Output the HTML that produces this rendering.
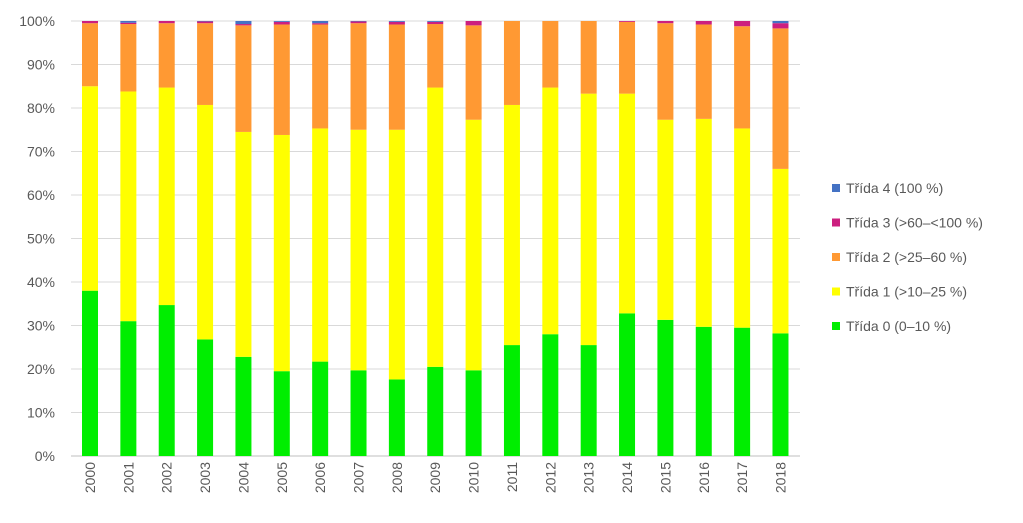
<!DOCTYPE html>
<html><head><meta charset="utf-8"><style>
body{margin:0;background:#fff;font-family:"Liberation Sans",sans-serif}
</style></head><body>
<svg id="chart" width="1023" height="518" xmlns="http://www.w3.org/2000/svg" style="font-family:'Liberation Sans',sans-serif"></svg>
<script>
const years=["2000","2001","2002","2003","2004","2005","2006","2007","2008","2009","2010","2011","2012","2013","2014","2015","2016","2017","2018"];
const class0=[38,31,34.7,26.8,22.8,19.5,21.7,19.7,17.6,20.5,19.7,25.5,28,25.5,32.8,31.3,29.7,29.5,28.2];
const class1=[47,52.8,50,53.9,51.7,54.3,53.6,55.3,57.4,64.2,57.6,55.2,56.7,57.8,50.5,46,47.8,45.8,37.8];
const class2=[14.5,15.5,14.8,18.8,24.5,25.4,23.9,24.5,24.2,14.6,21.7,19.3,15.3,16.7,16.5,22.2,21.7,23.5,32.3];
const class3=[0.5,0.3,0.5,0.4,0.3,0.6,0.3,0.4,0.6,0.5,1,0,0,0,0.2,0.5,0.8,1.2,1.2];
const class4=[0,0.4,0,0.1,0.7,0.2,0.5,0.1,0.2,0.2,0,0,0,0,0,0,0,0,0.5];
const yTicks=[0,10,20,30,40,50,60,70,80,90,100];
const series=[
 {name:"Třída 0 (0–10 %)",vals:class0,color:"#00ee00",key:"class-0"},
 {name:"Třída 1 (>10–25 %)",vals:class1,color:"#ffff00",key:"class-1"},
 {name:"Třída 2 (>25–60 %)",vals:class2,color:"#ff9933",key:"class-2"},
 {name:"Třída 3 (>60–<100 %)",vals:class3,color:"#cc1f7f",key:"class-3"},
 {name:"Třída 4 (100 %)",vals:class4,color:"#4472c4",key:"class-4"}];
const svg=document.getElementById('chart');const NS="http://www.w3.org/2000/svg";
function mk(t,a,p){const e=document.createElementNS(NS,t);for(const k in a)e.setAttribute(k,a[k]);(p||svg).appendChild(e);return e;}
const y0=456,y1=21,x0=71;
const yS=v=>y0-(v/100)*(y0-y1);
const xS=i=>90+i*38.36;
yTicks.forEach(t=>{
 const g=mk('line',{x1:x0,x2:800,y1:yS(t),y2:yS(t),stroke:t==0?'#bfbfbf':'#d9d9d9','stroke-width':1});
 
 
 const l=mk('text',{x:55,y:yS(t)+5,'text-anchor':'end','font-size':14,fill:'#595959'});
 l.textContent=t+'%';
 
 
});
years.forEach((yr,i)=>{
 let cum=0;
 series.forEach(s=>{
  const v=s.vals[i];if(v<=0)return;
  const r=mk('rect',{x:xS(i)-8,y:yS(cum+v),width:16,height:yS(cum)-yS(cum+v),fill:s.color});
  
  
  cum+=v;
 });
 const t=mk('text',{x:0,y:0,'text-anchor':'end','font-size':14,fill:'#595959',transform:`translate(${xS(i)+5},462) rotate(-90)`});
 t.textContent=yr;
 
 
});
const lg=mk('g',{});


series.slice().reverse().forEach((s,k)=>{
 const cy=188+k*34.5;
 const r=mk('rect',{x:832,y:cy-4,width:8,height:8,fill:s.color},lg);
 
 
 const t=mk('text',{x:846,y:cy+5,'font-size':14,fill:'#595959'},lg);
 t.textContent=s.name;
 
 
});
</script>
</body></html>
